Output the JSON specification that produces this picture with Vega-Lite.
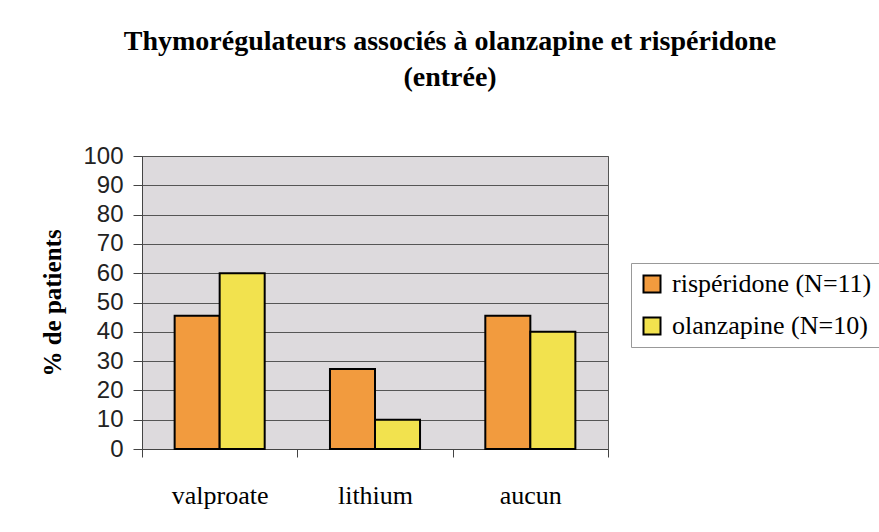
{
  "$schema": "https://vega.github.io/schema/vega-lite/v6.json",
  "autosize": "none",
  "width": 466,
  "height": 293,
  "padding": {"left": 142, "top": 156, "right": 271, "bottom": 83},
  "background": "white",
  "title": {
    "text": ["Thymorégulateurs associés à olanzapine et rispéridone", "(entrée)"],
    "font": "Liberation Serif",
    "fontSize": 28,
    "fontWeight": "bold",
    "color": "black",
    "lineHeight": 36,
    "anchor": "middle",
    "frame": "group",
    "baseline": "bottom",
    "dx": 75,
    "offset": 24
  },
  "data": {
    "values": [
      {"cat": "valproate", "groupe": "rispéridone (N=11)", "pct": 45.5},
      {"cat": "valproate", "groupe": "olanzapine (N=10)", "pct": 60},
      {"cat": "lithium", "groupe": "rispéridone (N=11)", "pct": 27.3},
      {"cat": "lithium", "groupe": "olanzapine (N=10)", "pct": 10},
      {"cat": "aucun", "groupe": "rispéridone (N=11)", "pct": 45.5},
      {"cat": "aucun", "groupe": "olanzapine (N=10)", "pct": 40}
    ]
  },
  "mark": {"type": "bar", "stroke": "black", "strokeWidth": 2, "opacity": 1},
  "encoding": {
    "x": {
      "field": "cat",
      "type": "nominal",
      "sort": ["valproate", "lithium", "aucun"],
      "scale": {"paddingInner": 0, "paddingOuter": 0},
      "axis": {
        "title": null,
        "labelAngle": 0,
        "labelFont": "Liberation Serif",
        "labelFontSize": 26,
        "labelColor": "black",
        "labelPadding": 25,
        "tickBand": "extent",
        "tickSize": 8,
        "tickColor": "#444",
        "domainColor": "#444",
        "grid": false
      }
    },
    "xOffset": {
      "field": "groupe",
      "type": "nominal",
      "sort": ["rispéridone (N=11)", "olanzapine (N=10)"],
      "scale": {"paddingInner": 0, "paddingOuter": 0.725}
    },
    "y": {
      "field": "pct",
      "type": "quantitative",
      "scale": {"domain": [0, 100], "nice": false},
      "axis": {
        "title": "% de patients",
        "titleFont": "Liberation Serif",
        "titleFontSize": 25,
        "titleFontWeight": "bold",
        "titleColor": "black",
        "titlePadding": 17,
        "values": [0, 10, 20, 30, 40, 50, 60, 70, 80, 90, 100],
        "labelFont": "Liberation Sans",
        "labelFontSize": 24,
        "labelColor": "#222",
        "labelPadding": 10,
        "tickSize": 9,
        "tickColor": "#444",
        "domainColor": "#444",
        "grid": true,
        "gridColor": "#555",
        "gridWidth": 1,
        "gridOpacity": 1
      }
    },
    "color": {
      "field": "groupe",
      "type": "nominal",
      "sort": ["rispéridone (N=11)", "olanzapine (N=10)"],
      "scale": {"domain": ["rispéridone (N=11)", "olanzapine (N=10)"], "range": ["#f29b3e", "#f2e24e"]},
      "legend": {
        "title": null,
        "orient": "none",
        "legendX": 489,
        "legendY": 107,
        "padding": 8,
        "strokeColor": "#999",
        "fillColor": "white",
        "symbolType": "square",
        "symbolSize": 289,
        "symbolStrokeColor": "black",
        "symbolStrokeWidth": 2,
        "symbolOpacity": 1,
        "labelFont": "Liberation Serif",
        "labelFontSize": 26,
        "labelColor": "black",
        "labelOffset": 7,
        "labelLimit": 400,
        "rowPadding": 16
      }
    }
  },
  "config": {
    "view": {"fill": "#dddadd", "stroke": "#555", "strokeWidth": 1}
  }
}
